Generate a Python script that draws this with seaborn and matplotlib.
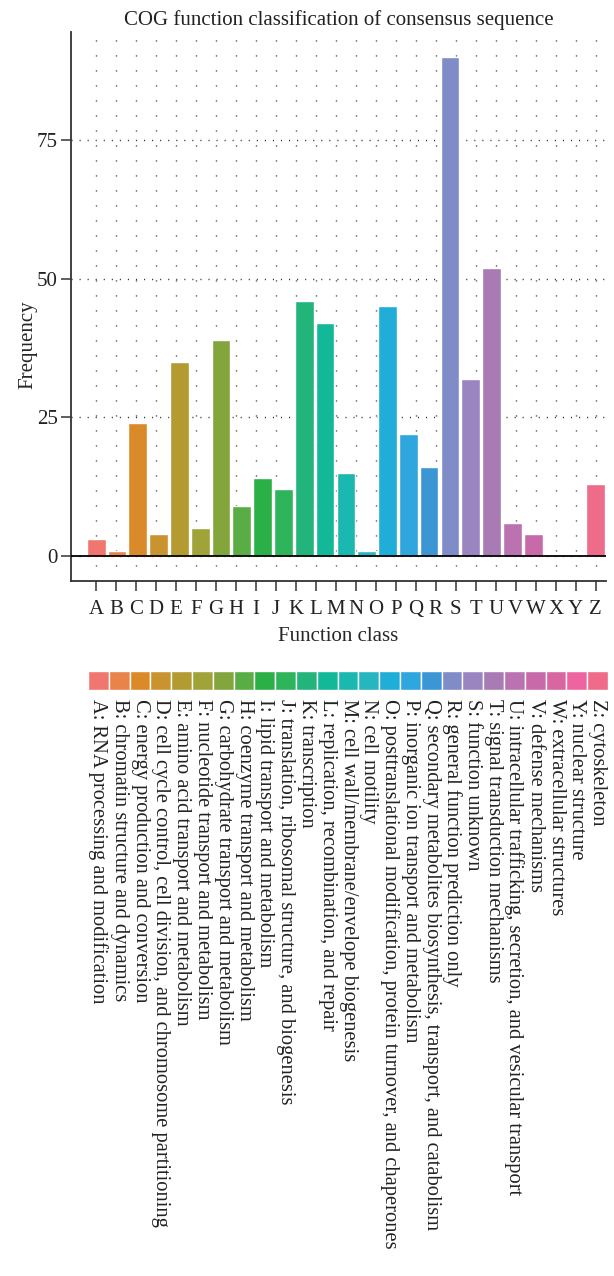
import numpy as np
import pandas as pd
import matplotlib
matplotlib.use('Agg')
import matplotlib.pyplot as plt
from matplotlib.patches import Rectangle
import seaborn as sns

# ============================================================
# DATA
# ============================================================
# bar heights, left to right (25 bars drawn in the figure)
bar_values = [3, 1, 24, 4, 35, 5, 39, 9, 14, 12, 46, 42, 15, 1, 45,
              22, 16, 90, 32, 52, 6, 4, 0, 0, 13]
bar_colors = ["#F07770", "#E8834A", "#DB8A2A", "#C99430", "#B39B32",
              "#A0A33A", "#82A53C", "#5AAD44", "#2BB048", "#2EB45A",
              "#22B47A", "#13B898", "#1AB8B0", "#26B6C0", "#20AED8",
              "#2FA6DE", "#3D96D4", "#7F8CC8", "#9A85C0", "#A87BB5",
              "#BA72B0", "#C86AAA", "#D866A0", "#EE64A0", "#EE6C8A"]
# x axis tick labels (26 letters)
tick_labels = list("ABCDEFGHIJKLMNOPQRSTUVWXYZ")
y_ticks = [0, 25, 50, 75]
legend_labels = [
    "A: RNA processing and modification",
    "B: chromatin structure and dynamics",
    "C: energy production and conversion",
    "D: cell cycle control, cell division, and chromosome partitioning",
    "E: amino acid transport and metabolism",
    "F: nucleotide transport and metabolism",
    "G: carbohydrate transport and metabolism",
    "H: coenzyme transport and metabolism",
    "I: lipid transport and metabolism",
    "J: translation, ribosomal structure, and biogenesis",
    "K: transcription",
    "L: replication, recombination, and repair",
    "M: cell wall/membrane/envelope biogenesis",
    "N: cell motility",
    "O: posttranslational modification, protein turnover, and chaperones",
    "P: inorganic ion transport and metabolism",
    "Q: secondary metabolites biosynthesis, transport, and catabolism",
    "R: general function prediction only",
    "S: function unknown",
    "T: signal transduction mechanisms",
    "U: intracellular trafficking, secretion, and vesicular transport",
    "V: defense mechanisms",
    "W: extracellular structures",
    "Y: nuclear structure",
    "Z: cytoskeleton",
]

# ============================================================
# STYLE
# ============================================================
sns.set_theme(style='white')
plt.rcParams['font.family'] = ['Liberation Serif', 'DejaVu Serif']
plt.rcParams['text.color'] = '#222222'
FS = 15

W, H = 614, 1276
fig = plt.figure(figsize=(W / 100, H / 100), dpi=100)

# main panel (pixel box -> figure fractions)
px_left, px_right, px_top, px_bottom = 71, 606, 32, 581
ax = fig.add_axes([px_left / W, 1 - px_bottom / H,
                   (px_right - px_left) / W, (px_bottom - px_top) / H])

df = pd.DataFrame({'pos': np.arange(len(bar_values)), 'value': bar_values})
sns.barplot(data=df, x='pos', y='value', hue='pos', palette=bar_colors,
            legend=False, width=0.9, saturation=1, ax=ax)

ax.set_xlim(-1.21, 24.5)
ax.set_ylim(-4.5, 94.5)
tick_pos = np.linspace(0, len(bar_values) - 1, len(tick_labels))
ax.set_xticks(tick_pos)
ax.set_xticklabels(tick_labels, fontsize=FS)
ax.set_yticks(y_ticks)
ax.set_yticklabels([str(t) for t in y_ticks], fontsize=FS)

# dotted grid
ax.set_axisbelow(True)
ax.grid(False)
for xp in tick_pos:
    ax.axvline(xp, color='#333333', lw=1.0, ls=(0, (0.8, 10)), zorder=0)
for yp in y_ticks:
    ax.axhline(yp, color='#333333', lw=1.0, ls=(0, (0.8, 5)), zorder=0)
ax.axhline(0, color='black', lw=1.3, zorder=3)

for side in ['top', 'right']:
    ax.spines[side].set_visible(False)
for side in ['left', 'bottom']:
    ax.spines[side].set_color('#333333')
    ax.spines[side].set_linewidth(1.3)
ax.tick_params(axis='both', direction='out', length=7.5, width=1.1,
               color='#333333', labelcolor='#222222')
ax.tick_params(axis='x', bottom=True, pad=6)
ax.tick_params(axis='y', left=True, pad=2)

ax.set_title('COG function classification of consensus sequence',
             fontsize=FS, pad=5)
ax.set_xlabel('Function class', fontsize=FS, labelpad=6)
ax.set_ylabel('Frequency', fontsize=FS)
ax.yaxis.set_label_coords(-0.063, 0.43)

# ============================================================
# COLOUR KEY BELOW THE PLOT
# ============================================================
lg_left, lg_right, lg_top, lg_bottom = 88, 608, 671, 690
lax = fig.add_axes([lg_left / W, 1 - lg_bottom / H,
                    (lg_right - lg_left) / W, (lg_bottom - lg_top) / H])
lax.set_xlim(0, len(bar_colors))
lax.set_ylim(0, 1)
lax.axis('off')
for i, c in enumerate(bar_colors):
    lax.add_patch(Rectangle((i, 0), 1, 1, facecolor=c, edgecolor='white',
                            lw=1.0))
for i, lab in enumerate(legend_labels):
    lax.text(i + 0.5, -0.45, lab, rotation=270, ha='center', va='top',
             fontsize=14.8, color='#222222')

fig.savefig('out.png', dpi=100)
